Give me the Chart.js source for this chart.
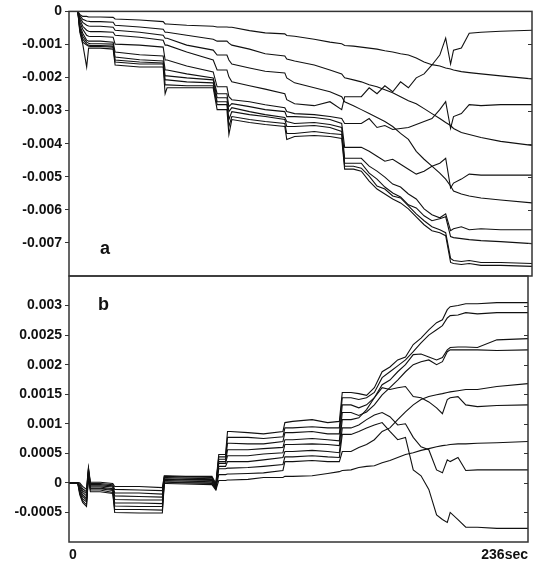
<!DOCTYPE html>
<html><head><meta charset="utf-8">
<script src="https://cdn.jsdelivr.net/npm/chart.js@4.4.1/dist/chart.umd.min.js"></script>
<style>
html,body{margin:0;padding:0;background:#fff;}
#wrap{position:relative;width:533px;height:563px;}
canvas{position:absolute;left:0;top:0;}
</style>
</head><body>
<div id="wrap"><canvas id="ca" width="533" height="563"></canvas><canvas id="cb" width="533" height="563"></canvas></div>
<script>
// time in seconds (shared sampling grid)
const TIME = [0,4.5,5.5,7,9,10,11,16,22.5,23.5,36,48,49,50,60,73.5,75.5,77,80.5,81.5,83,92,100,110,111,115,125,133,139,140.5,145,149,153,157,161,165,169,173,177,181,185,189,192,194.5,196,200,204,210,220,236];

const X_TICKS = [0,236];
const X_LABELS = ['0','236sec'];
const A_TICKS = [0,-0.001,-0.002,-0.003,-0.004,-0.005,-0.006,-0.007];
const B_TICKS = [0.003,0.0025,0.002,0.0015,0.001,0.0005,0,-0.0005];

// panel a series
const A1 = [0,0,-0.09e-3,-0.15e-3,-0.15e-3,-0.17e-3,-0.17e-3,-0.17e-3,-0.18e-3,-0.23e-3,-0.26e-3,-0.31e-3,-0.38e-3,-0.38e-3,-0.42e-3,-0.45e-3,-0.47e-3,-0.47e-3,-0.47e-3,-0.48e-3,-0.48e-3,-0.58e-3,-0.65e-3,-0.68e-3,-0.73e-3,-0.75e-3,-0.84e-3,-0.93e-3,-0.98e-3,-1.03e-3,-1.05e-3,-1.08e-3,-1.11e-3,-1.14e-3,-1.19e-3,-1.23e-3,-1.28e-3,-1.32e-3,-1.41e-3,-1.53e-3,-1.61e-3,-1.65e-3,-1.71e-3,-1.74e-3,-1.77e-3,-1.82e-3,-1.85e-3,-1.89e-3,-1.95e-3,-2.04e-3];
const A2 = [0,0,-0.12e-3,-0.24e-3,-0.29e-3,-0.30e-3,-0.31e-3,-0.31e-3,-0.33e-3,-0.42e-3,-0.47e-3,-0.54e-3,-0.63e-3,-0.63e-3,-0.72e-3,-0.84e-3,-0.90e-3,-0.90e-3,-0.90e-3,-0.96e-3,-1.02e-3,-1.14e-3,-1.28e-3,-1.35e-3,-1.44e-3,-1.50e-3,-1.62e-3,-1.77e-3,-1.89e-3,-2.01e-3,-2.07e-3,-2.13e-3,-2.22e-3,-2.28e-3,-2.37e-3,-2.46e-3,-2.58e-3,-2.70e-3,-2.79e-3,-2.94e-3,-3.09e-3,-3.24e-3,-3.36e-3,-3.45e-3,-3.54e-3,-3.66e-3,-3.72e-3,-3.81e-3,-3.93e-3,-4.05e-3];
const A3 = [0,0,-0.18e-3,-0.33e-3,-0.42e-3,-0.44e-3,-0.45e-3,-0.45e-3,-0.48e-3,-0.57e-3,-0.63e-3,-0.72e-3,-0.81e-3,-0.81e-3,-1.02e-3,-1.17e-3,-1.32e-3,-1.32e-3,-1.32e-3,-1.47e-3,-1.59e-3,-1.71e-3,-1.81e-3,-1.86e-3,-2.01e-3,-2.16e-3,-2.31e-3,-2.43e-3,-2.58e-3,-2.73e-3,-2.85e-3,-2.97e-3,-3.09e-3,-3.21e-3,-3.33e-3,-3.48e-3,-3.69e-3,-3.87e-3,-4.23e-3,-4.47e-3,-4.68e-3,-4.89e-3,-5.07e-3,-5.28e-3,-5.43e-3,-5.52e-3,-5.58e-3,-5.64e-3,-5.70e-3,-5.79e-3];
const A4 = [0,0,-0.24e-3,-0.45e-3,-0.57e-3,-0.60e-3,-0.61e-3,-0.61e-3,-0.63e-3,-0.72e-3,-0.78e-3,-0.87e-3,-1.02e-3,-1.02e-3,-1.23e-3,-1.47e-3,-1.77e-3,-1.77e-3,-1.77e-3,-1.98e-3,-2.13e-3,-2.25e-3,-2.35e-3,-2.49e-3,-2.67e-3,-2.79e-3,-2.85e-3,-2.73e-3,-2.97e-3,-2.58e-3,-2.58e-3,-2.58e-3,-2.31e-3,-2.49e-3,-2.25e-3,-2.43e-3,-2.13e-3,-2.31e-3,-2.01e-3,-1.89e-3,-1.62e-3,-1.32e-3,-0.81e-3,-1.59e-3,-1.17e-3,-1.11e-3,-0.66e-3,-0.63e-3,-0.60e-3,-0.57e-3];
const A5 = [0,0,-0.33e-3,-0.54e-3,-0.72e-3,-0.75e-3,-0.76e-3,-0.76e-3,-0.78e-3,-0.99e-3,-1.02e-3,-1.08e-3,-1.47e-3,-1.47e-3,-1.65e-3,-1.83e-3,-2.28e-3,-2.28e-3,-2.28e-3,-2.58e-3,-2.67e-3,-2.73e-3,-2.82e-3,-2.91e-3,-3.03e-3,-3.09e-3,-3.12e-3,-3.18e-3,-3.24e-3,-3.39e-3,-3.39e-3,-3.39e-3,-3.24e-3,-3.51e-3,-3.45e-3,-3.57e-3,-3.54e-3,-3.51e-3,-3.42e-3,-3.33e-3,-3.24e-3,-2.97e-3,-2.73e-3,-3.54e-3,-3.18e-3,-3.09e-3,-2.82e-3,-2.85e-3,-2.82e-3,-2.82e-3];
const A6 = [0,0,-0.42e-3,-0.66e-3,-0.87e-3,-0.90e-3,-0.90e-3,-0.90e-3,-0.93e-3,-1.23e-3,-1.31e-3,-1.35e-3,-1.77e-3,-1.77e-3,-1.89e-3,-2.01e-3,-2.49e-3,-2.49e-3,-2.49e-3,-2.88e-3,-2.79e-3,-2.88e-3,-2.97e-3,-3.03e-3,-3.18e-3,-3.18e-3,-3.21e-3,-3.27e-3,-3.39e-3,-4.11e-3,-4.11e-3,-4.11e-3,-4.23e-3,-4.38e-3,-4.53e-3,-4.47e-3,-4.62e-3,-4.77e-3,-4.92e-3,-4.83e-3,-4.68e-3,-4.59e-3,-4.44e-3,-5.34e-3,-5.19e-3,-5.07e-3,-4.92e-3,-4.95e-3,-4.95e-3,-4.95e-3];
const A7 = [0,0,-0.48e-3,-0.75e-3,-0.93e-3,-0.96e-3,-0.98e-3,-0.98e-3,-0.99e-3,-1.38e-3,-1.46e-3,-1.50e-3,-1.95e-3,-1.95e-3,-2.01e-3,-2.07e-3,-2.61e-3,-2.61e-3,-2.61e-3,-3.03e-3,-2.91e-3,-3.03e-3,-3.12e-3,-3.21e-3,-3.33e-3,-3.39e-3,-3.36e-3,-3.42e-3,-3.51e-3,-4.44e-3,-4.44e-3,-4.44e-3,-4.68e-3,-4.83e-3,-5.01e-3,-5.22e-3,-5.31e-3,-5.52e-3,-5.67e-3,-5.97e-3,-6.15e-3,-6.24e-3,-6.12e-3,-6.63e-3,-6.57e-3,-6.51e-3,-6.60e-3,-6.57e-3,-6.60e-3,-6.60e-3];
const A8 = [0,0,-0.54e-3,-0.84e-3,-0.99e-3,-1.02e-3,-1.03e-3,-1.03e-3,-1.05e-3,-1.47e-3,-1.53e-3,-1.56e-3,-2.07e-3,-2.07e-3,-2.13e-3,-2.16e-3,-2.73e-3,-2.73e-3,-2.73e-3,-3.27e-3,-3.03e-3,-3.12e-3,-3.18e-3,-3.27e-3,-3.48e-3,-3.48e-3,-3.45e-3,-3.51e-3,-3.63e-3,-4.59e-3,-4.59e-3,-4.59e-3,-4.89e-3,-5.07e-3,-5.31e-3,-5.49e-3,-5.61e-3,-5.85e-3,-5.94e-3,-6.18e-3,-6.33e-3,-6.27e-3,-6.21e-3,-6.81e-3,-6.84e-3,-6.87e-3,-6.90e-3,-6.93e-3,-6.96e-3,-7.02e-3];
const A9 = [0,0,-0.57e-3,-0.93e-3,-1.02e-3,-1.05e-3,-1.06e-3,-1.06e-3,-1.08e-3,-1.53e-3,-1.59e-3,-1.59e-3,-2.22e-3,-2.22e-3,-2.25e-3,-2.25e-3,-2.82e-3,-2.82e-3,-2.82e-3,-3.48e-3,-3.18e-3,-3.27e-3,-3.33e-3,-3.39e-3,-3.69e-3,-3.69e-3,-3.63e-3,-3.69e-3,-3.72e-3,-4.68e-3,-4.68e-3,-4.74e-3,-4.98e-3,-5.28e-3,-5.37e-3,-5.58e-3,-5.64e-3,-5.88e-3,-6.12e-3,-6.33e-3,-6.51e-3,-6.60e-3,-6.69e-3,-7.47e-3,-7.53e-3,-7.56e-3,-7.53e-3,-7.59e-3,-7.59e-3,-7.62e-3];
const A10 = [0,0,-0.63e-3,-0.99e-3,-1.68e-3,-1.11e-3,-1.11e-3,-1.11e-3,-1.14e-3,-1.62e-3,-1.68e-3,-1.68e-3,-2.49e-3,-2.31e-3,-2.31e-3,-2.31e-3,-2.97e-3,-2.97e-3,-2.97e-3,-3.72e-3,-3.27e-3,-3.36e-3,-3.42e-3,-3.48e-3,-3.87e-3,-3.78e-3,-3.75e-3,-3.78e-3,-3.84e-3,-4.77e-3,-4.77e-3,-4.83e-3,-5.13e-3,-5.37e-3,-5.52e-3,-5.67e-3,-5.79e-3,-5.97e-3,-6.21e-3,-6.45e-3,-6.63e-3,-6.69e-3,-6.78e-3,-7.59e-3,-7.62e-3,-7.65e-3,-7.62e-3,-7.68e-3,-7.68e-3,-7.71e-3];

// panel b series
const B1 = [0,0,0,-0.06e-3,-0.11e-3,0.26e-3,0.01e-3,0.01e-3,-0.01e-3,-0.06e-3,-0.06e-3,-0.08e-3,0.12e-3,0.12e-3,0.11e-3,0.11e-3,-0.01e-3,0.48e-3,0.48e-3,0.87e-3,0.87e-3,0.85e-3,0.83e-3,0.87e-3,1.02e-3,1.04e-3,1.07e-3,1.02e-3,1.04e-3,1.53e-3,1.53e-3,1.51e-3,1.48e-3,1.61e-3,1.88e-3,1.96e-3,2.08e-3,2.13e-3,2.34e-3,2.45e-3,2.59e-3,2.71e-3,2.76e-3,2.93e-3,2.98e-3,3.00e-3,3.03e-3,3.03e-3,3.05e-3,3.05e-3];
const B2 = [0,0,-0.02e-3,-0.10e-3,-0.15e-3,0.24e-3,-0.01e-3,-0.01e-3,-0.03e-3,-0.11e-3,-0.12e-3,-0.13e-3,0.11e-3,0.11e-3,0.10e-3,0.09e-3,-0.03e-3,0.44e-3,0.44e-3,0.77e-3,0.77e-3,0.77e-3,0.75e-3,0.78e-3,0.93e-3,0.93e-3,0.95e-3,0.93e-3,0.93e-3,1.44e-3,1.44e-3,1.41e-3,1.44e-3,1.53e-3,1.78e-3,1.88e-3,1.98e-3,2.08e-3,2.22e-3,2.37e-3,2.50e-3,2.59e-3,2.66e-3,2.79e-3,2.83e-3,2.84e-3,2.88e-3,2.86e-3,2.88e-3,2.88e-3];
const B3 = [0,0,-0.05e-3,-0.13e-3,-0.18e-3,0.22e-3,-0.03e-3,-0.03e-3,-0.05e-3,-0.17e-3,-0.17e-3,-0.19e-3,0.09e-3,0.09e-3,0.08e-3,0.07e-3,-0.04e-3,0.40e-3,0.40e-3,0.67e-3,0.67e-3,0.66e-3,0.66e-3,0.70e-3,0.85e-3,0.85e-3,0.87e-3,0.83e-3,0.83e-3,1.32e-3,1.32e-3,1.27e-3,1.32e-3,1.44e-3,1.66e-3,1.74e-3,1.88e-3,2.00e-3,2.17e-3,2.18e-3,2.13e-3,2.08e-3,2.12e-3,2.25e-3,2.29e-3,2.30e-3,2.30e-3,2.29e-3,2.42e-3,2.44e-3];
const B4 = [0,0,-0.07e-3,-0.16e-3,-0.22e-3,0.20e-3,-0.05e-3,-0.05e-3,-0.07e-3,-0.22e-3,-0.23e-3,-0.24e-3,0.07e-3,0.07e-3,0.06e-3,0.06e-3,-0.05e-3,0.36e-3,0.36e-3,0.56e-3,0.56e-3,0.56e-3,0.58e-3,0.60e-3,0.73e-3,0.73e-3,0.75e-3,0.73e-3,0.71e-3,1.19e-3,1.19e-3,1.14e-3,1.20e-3,1.32e-3,1.49e-3,1.61e-3,1.74e-3,1.88e-3,2.00e-3,2.05e-3,2.08e-3,2.00e-3,2.05e-3,2.22e-3,2.25e-3,2.25e-3,2.25e-3,2.25e-3,2.24e-3,2.25e-3];
const B5 = [0,0,-0.10e-3,-0.20e-3,-0.26e-3,0.17e-3,-0.07e-3,-0.07e-3,-0.10e-3,-0.28e-3,-0.29e-3,-0.29e-3,0.06e-3,0.06e-3,0.05e-3,0.04e-3,-0.06e-3,0.33e-3,0.33e-3,0.46e-3,0.46e-3,0.46e-3,0.49e-3,0.51e-3,0.65e-3,0.65e-3,0.66e-3,0.65e-3,0.63e-3,1.07e-3,1.07e-3,1.10e-3,1.24e-3,1.44e-3,1.61e-3,1.58e-3,1.61e-3,1.63e-3,1.46e-3,1.44e-3,1.37e-3,1.27e-3,1.17e-3,1.41e-3,1.44e-3,1.46e-3,1.32e-3,1.29e-3,1.31e-3,1.32e-3];
const B6 = [0,0,-0.12e-3,-0.23e-3,-0.29e-3,0.16e-3,-0.09e-3,-0.09e-3,-0.11e-3,-0.34e-3,-0.34e-3,-0.35e-3,0.04e-3,0.04e-3,0.03e-3,0.02e-3,-0.08e-3,0.28e-3,0.28e-3,0.36e-3,0.36e-3,0.36e-3,0.39e-3,0.43e-3,0.53e-3,0.53e-3,0.55e-3,0.53e-3,0.51e-3,0.93e-3,0.93e-3,0.98e-3,1.07e-3,1.15e-3,1.19e-3,1.12e-3,0.98e-3,1.00e-3,0.77e-3,0.61e-3,0.56e-3,0.22e-3,0.17e-3,0.39e-3,0.36e-3,0.43e-3,0.21e-3,0.22e-3,0.22e-3,0.22e-3];
const B7 = [0,0,-0.15e-3,-0.27e-3,-0.32e-3,0.14e-3,-0.10e-3,-0.10e-3,-0.13e-3,-0.39e-3,-0.40e-3,-0.40e-3,0.02e-3,0.02e-3,0.01e-3,0.01e-3,-0.10e-3,0.24e-3,0.24e-3,0.25e-3,0.25e-3,0.26e-3,0.28e-3,0.31e-3,0.44e-3,0.44e-3,0.46e-3,0.44e-3,0.43e-3,0.82e-3,0.82e-3,0.87e-3,0.93e-3,0.98e-3,1.02e-3,0.87e-3,0.73e-3,0.77e-3,0.22e-3,0.12e-3,-0.11e-3,-0.54e-3,-0.62e-3,-0.67e-3,-0.50e-3,-0.62e-3,-0.75e-3,-0.75e-3,-0.77e-3,-0.77e-3];
const B8 = [0,0,-0.17e-3,-0.30e-3,-0.37e-3,0.11e-3,-0.12e-3,-0.12e-3,-0.16e-3,-0.45e-3,-0.45e-3,-0.46e-3,0.01e-3,0.01e-3,0,-0.01e-3,-0.10e-3,0.14e-3,0.14e-3,0.15e-3,0.15e-3,0.16e-3,0.17e-3,0.21e-3,0.36e-3,0.36e-3,0.38e-3,0.36e-3,0.36e-3,0.53e-3,0.53e-3,0.60e-3,0.65e-3,0.73e-3,0.87e-3,0.93e-3,1.07e-3,1.20e-3,1.32e-3,1.41e-3,1.46e-3,1.49e-3,1.51e-3,1.53e-3,1.54e-3,1.56e-3,1.58e-3,1.58e-3,1.63e-3,1.68e-3];
const B9 = [0,0,-0.20e-3,-0.33e-3,-0.40e-3,0.09e-3,-0.15e-3,-0.15e-3,-0.18e-3,-0.50e-3,-0.51e-3,-0.51e-3,-0.01e-3,-0.01e-3,-0.02e-3,-0.03e-3,-0.12e-3,0.04e-3,0.04e-3,0.05e-3,0.05e-3,0.06e-3,0.09e-3,0.09e-3,0.11e-3,0.11e-3,0.12e-3,0.16e-3,0.19e-3,0.21e-3,0.22e-3,0.26e-3,0.28e-3,0.29e-3,0.34e-3,0.38e-3,0.43e-3,0.48e-3,0.51e-3,0.55e-3,0.58e-3,0.61e-3,0.63e-3,0.64e-3,0.65e-3,0.66e-3,0.66e-3,0.67e-3,0.68e-3,0.70e-3];

const PANEL_A = [A1,A2,A3,A4,A5,A6,A7,A8,A9,A10];
const PANEL_B = [B1,B2,B3,B4,B5,B6,B7,B8,B9];

const FONT = '"Liberation Sans", Arial, Helvetica, sans-serif';
const INK = '#111';

function makeDatasets(list){
  return list.map(vals => ({
    data: TIME.map((t,i) => ({x:t, y:vals[i]})),
    borderColor: INK, borderWidth: 1.1, pointRadius: 0, fill: false, tension: 0
  }));
}

const framePlugin = {
  id: 'frame',
  afterDraw(chart, args, opts){
    const {ctx, chartArea:a} = chart;
    const ys = chart.scales.y;
    ctx.save();
    ctx.strokeStyle = '#333';
    ctx.lineWidth = 1.5;
    ctx.strokeRect(a.left, a.top, a.right - a.left, a.bottom - a.top);
    ctx.lineWidth = 1;
    ys.ticks.forEach(t => {
      const py = Math.round(ys.getPixelForValue(t.value)) + 0.5;
      ctx.beginPath(); ctx.moveTo(a.right - 4, py); ctx.lineTo(a.right, py); ctx.stroke();
    });
    ctx.fillStyle = INK;
    ctx.font = 'bold 18px ' + FONT;
    ctx.textBaseline = 'alphabetic';
    ctx.textAlign = 'left';
    ctx.fillText(opts.letter, opts.lx, opts.ly);
    ctx.restore();
  }
};

function yAxis(min, max, ticksArr){
  return {
    type: 'linear', min, max,
    afterFit(s){ s.width = 69; },
    afterBuildTicks(s){ s.ticks = ticksArr.map(v => ({value: v})); },
    ticks: { callback: v => String(v), color: INK, padding: 3, font: {family: FONT, size: 14, weight: 'bold'} },
    grid: { drawOnChartArea: false, drawTicks: true, tickLength: 4, color: '#333', lineWidth: 1 },
    border: { display: false }
  };
}

new Chart(document.getElementById('ca'), {
  type: 'line',
  data: { datasets: makeDatasets(PANEL_A) },
  options: {
    responsive: false, animation: false, devicePixelRatio: 1,
    layout: { padding: {left: 0, right: 1, top: 9, bottom: 287} },
    plugins: { legend: {display: false}, tooltip: {enabled: false}, frame: {letter: 'a', lx: 100, ly: 254} },
    scales: {
      x: { type: 'linear', min: 0, max: 236, display: false },
      y: yAxis(-0.008, 0, A_TICKS)
    }
  },
  plugins: [framePlugin]
});

new Chart(document.getElementById('cb'), {
  type: 'line',
  data: { datasets: makeDatasets(PANEL_B) },
  options: {
    responsive: false, animation: false, devicePixelRatio: 1,
    layout: { padding: {left: 0, right: 1, top: 276, bottom: 0} },
    plugins: { legend: {display: false}, tooltip: {enabled: false}, frame: {letter: 'b', lx: 98, ly: 310} },
    scales: {
      x: {
        type: 'linear', min: 0, max: 236,
        afterFit(s){ s.height = 21; },
        afterBuildTicks(s){ s.ticks = X_TICKS.map(v => ({value: v})); },
        ticks: { align: 'inner', maxRotation: 0, autoSkip: false, padding: 5, color: INK,
          callback: v => X_LABELS[X_TICKS.indexOf(v)],
          font: {family: FONT, size: 14, weight: 'bold'} },
        grid: { display: false, drawTicks: false },
        border: { display: false }
      },
      y: yAxis(-0.001, 0.0035, B_TICKS)
    }
  },
  plugins: [framePlugin]
});
</script>
</body></html>
